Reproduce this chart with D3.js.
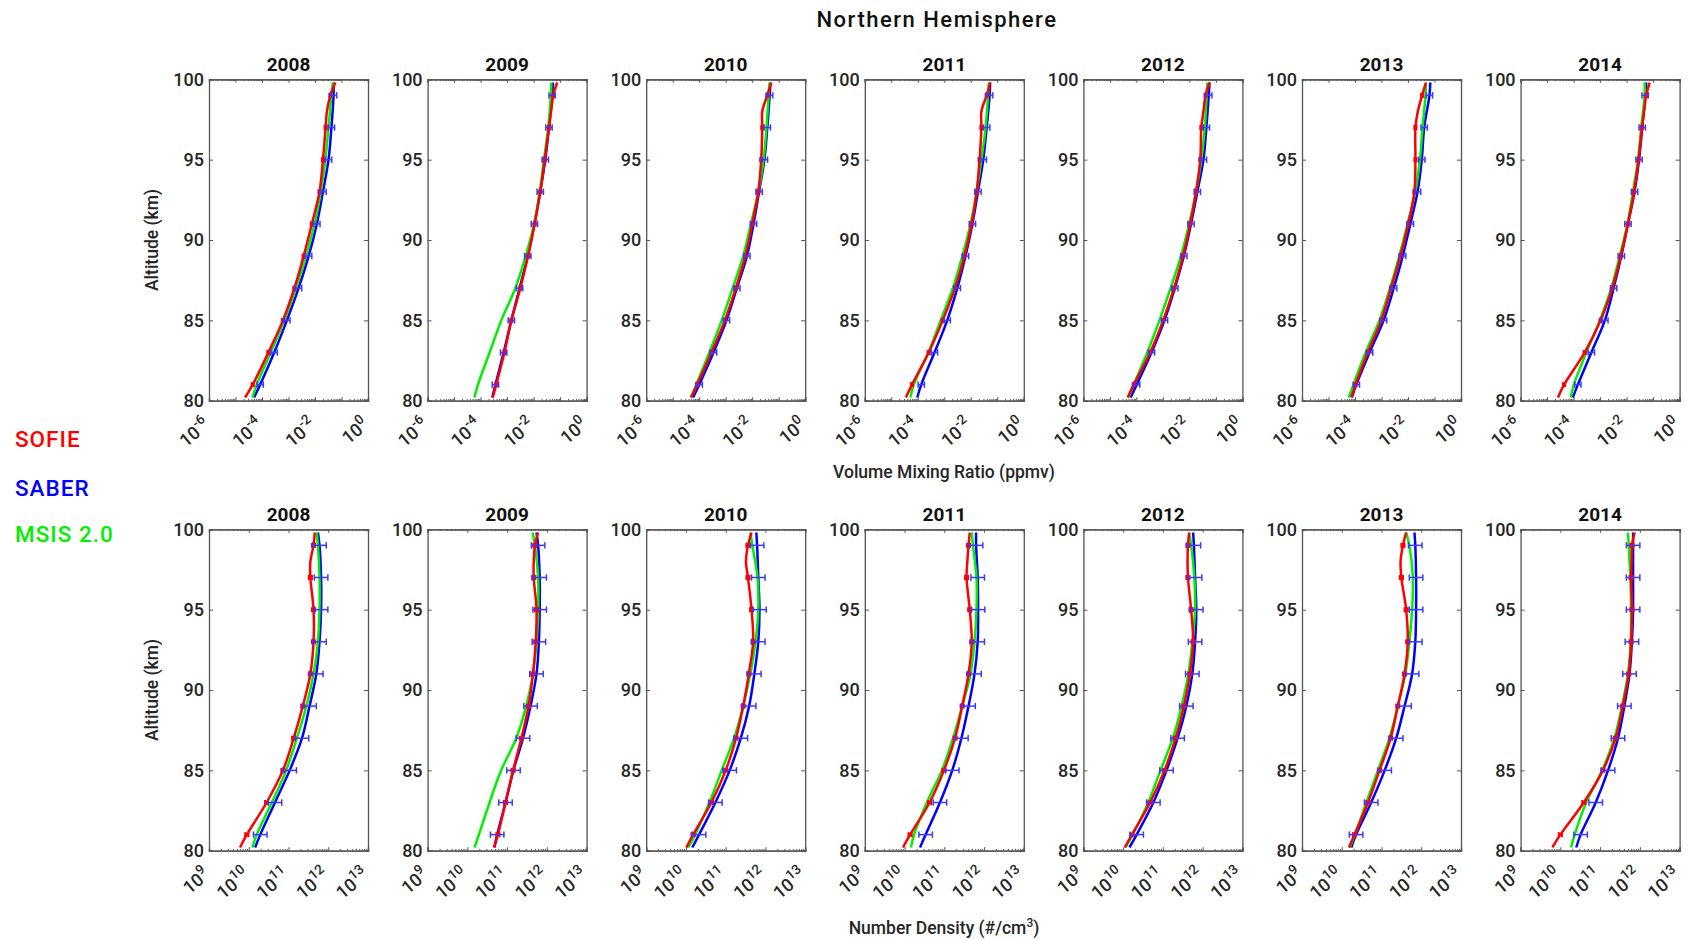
<!DOCTYPE html>
<html>
<head lang="en">
  <meta charset="UTF-8">
  <title>Northern Hemisphere</title>
  <script src="https://d3js.org/d3.v7.min.js" charset="utf-8"></script>
  <style>
    body { margin: 0; background: #fff; }
    text { font-family: Roboto, "Noto Sans", sans-serif; }
  </style>
</head>
<body>
  <script type="text/javascript">
    // values are log10 of the quantity
    var years = [2008, 2009, 2010, 2011, 2012, 2013, 2014];
    var alt = [80.2, 81, 83, 85, 87, 89, 91, 93, 95, 97, 99, 99.8];
    var altSofie = [80.2, 81, 83, 85, 87, 89, 91, 93, 95, 97, 98, 99, 99.8];
    var errAlt = [81, 83, 85, 87, 89, 91, 93, 95, 97, 99];

    // volume mixing ratio (ppmv)
    var vmrSofie = [
      [-4.64, -4.35, -3.76, -3.21, -2.78, -2.43, -2.12, -1.83, -1.70, -1.60, -1.55, -1.42, -1.23],
      [-3.54, -3.41, -3.10, -2.84, -2.50, -2.21, -1.96, -1.75, -1.58, -1.42, -1.34, -1.26, -1.11],
      [-4.31, -4.08, -3.54, -3.03, -2.62, -2.26, -2.00, -1.77, -1.66, -1.62, -1.62, -1.43, -1.28],
      [-4.45, -4.22, -3.59, -3.06, -2.60, -2.24, -1.97, -1.78, -1.67, -1.60, -1.60, -1.40, -1.27],
      [-4.33, -4.10, -3.48, -2.99, -2.58, -2.24, -1.97, -1.75, -1.59, -1.55, -1.47, -1.39, -1.24],
      [-4.14, -3.98, -3.52, -3.01, -2.64, -2.29, -1.99, -1.76, -1.72, -1.72, -1.63, -1.47, -1.32],
      [-4.59, -4.36, -3.58, -2.98, -2.54, -2.22, -1.95, -1.72, -1.55, -1.42, -1.34, -1.26, -1.13]
    ];
    var vmrSaber = [
      [-4.30, -4.07, -3.54, -3.06, -2.62, -2.24, -1.93, -1.70, -1.49, -1.38, -1.30, -1.30],
      [-3.56, -3.44, -3.13, -2.84, -2.53, -2.22, -1.97, -1.75, -1.56, -1.42, -1.30, -1.27],
      [-4.23, -4.00, -3.46, -2.97, -2.58, -2.20, -1.95, -1.74, -1.54, -1.43, -1.34, -1.31],
      [-4.02, -3.87, -3.37, -2.89, -2.51, -2.20, -1.94, -1.73, -1.53, -1.40, -1.29, -1.27],
      [-4.22, -3.99, -3.43, -2.94, -2.55, -2.21, -1.94, -1.70, -1.47, -1.36, -1.27, -1.24],
      [-4.12, -3.95, -3.45, -2.92, -2.54, -2.20, -1.91, -1.64, -1.48, -1.39, -1.19, -1.16],
      [-4.03, -3.84, -3.33, -2.82, -2.49, -2.20, -1.95, -1.70, -1.53, -1.41, -1.30, -1.26]
    ];
    var vmrMsis = [
      [-4.36, -4.20, -3.67, -3.16, -2.72, -2.34, -2.02, -1.78, -1.61, -1.49, -1.38, -1.33],
      [-4.23, -4.10, -3.66, -3.22, -2.69, -2.30, -1.98, -1.77, -1.61, -1.45, -1.35, -1.33],
      [-4.31, -4.11, -3.62, -3.15, -2.74, -2.34, -2.05, -1.77, -1.57, -1.46, -1.38, -1.35],
      [-4.28, -4.15, -3.60, -3.14, -2.68, -2.32, -2.01, -1.78, -1.60, -1.44, -1.35, -1.32],
      [-4.30, -4.10, -3.59, -3.13, -2.71, -2.32, -2.01, -1.75, -1.55, -1.42, -1.35, -1.32],
      [-4.23, -4.06, -3.60, -3.08, -2.68, -2.33, -2.02, -1.73, -1.55, -1.45, -1.34, -1.32],
      [-4.11, -3.99, -3.52, -3.01, -2.58, -2.26, -1.97, -1.76, -1.57, -1.45, -1.32, -1.32]
    ];

    // number density (#/cm3)
    var ndSofie = [
      [9.78, 9.95, 10.45, 10.86, 11.13, 11.36, 11.55, 11.63, 11.63, 11.55, 11.55, 11.63, 11.66],
      [10.67, 10.77, 10.96, 11.15, 11.36, 11.54, 11.65, 11.72, 11.74, 11.67, 11.67, 11.70, 11.78],
      [10.01, 10.18, 10.64, 11.00, 11.26, 11.44, 11.58, 11.69, 11.65, 11.56, 11.51, 11.56, 11.65],
      [9.96, 10.14, 10.63, 10.99, 11.27, 11.45, 11.61, 11.69, 11.64, 11.56, 11.58, 11.61, 11.64],
      [10.04, 10.22, 10.68, 11.04, 11.32, 11.53, 11.68, 11.76, 11.71, 11.63, 11.62, 11.63, 11.66],
      [10.18, 10.32, 10.66, 10.95, 11.23, 11.41, 11.58, 11.66, 11.62, 11.50, 11.48, 11.54, 11.62],
      [9.80, 10.00, 10.59, 11.07, 11.39, 11.57, 11.72, 11.78, 11.80, 11.78, 11.79, 11.80, 11.87]
    ];
    var ndSaber = [
      [10.16, 10.29, 10.66, 11.03, 11.34, 11.53, 11.70, 11.78, 11.82, 11.82, 11.78, 11.74],
      [10.68, 10.75, 10.96, 11.16, 11.40, 11.59, 11.74, 11.80, 11.82, 11.82, 11.78, 11.74],
      [10.16, 10.33, 10.74, 11.10, 11.38, 11.59, 11.72, 11.82, 11.85, 11.82, 11.79, 11.77],
      [10.39, 10.53, 10.89, 11.20, 11.43, 11.61, 11.76, 11.84, 11.85, 11.84, 11.80, 11.80],
      [10.16, 10.34, 10.76, 11.09, 11.37, 11.59, 11.74, 11.81, 11.84, 11.81, 11.78, 11.76],
      [10.24, 10.36, 10.74, 11.08, 11.37, 11.58, 11.77, 11.85, 11.87, 11.87, 11.85, 11.83],
      [10.40, 10.51, 10.89, 11.20, 11.45, 11.61, 11.74, 11.80, 11.83, 11.83, 11.83, 11.83]
    ];
    var ndMsis = [
      [10.09, 10.20, 10.58, 10.94, 11.21, 11.45, 11.63, 11.74, 11.78, 11.78, 11.74, 11.71],
      [10.18, 10.29, 10.56, 10.85, 11.23, 11.48, 11.65, 11.74, 11.78, 11.78, 11.70, 11.64],
      [10.06, 10.23, 10.59, 10.90, 11.21, 11.44, 11.62, 11.75, 11.82, 11.80, 11.67, 11.62],
      [10.16, 10.24, 10.56, 10.94, 11.22, 11.45, 11.66, 11.76, 11.81, 11.81, 11.72, 11.69],
      [10.06, 10.24, 10.63, 10.94, 11.25, 11.47, 11.64, 11.74, 11.81, 11.79, 11.71, 11.66],
      [10.20, 10.33, 10.62, 10.91, 11.20, 11.41, 11.60, 11.70, 11.77, 11.79, 11.70, 11.62],
      [10.27, 10.36, 10.65, 11.05, 11.36, 11.55, 11.70, 11.77, 11.78, 11.76, 11.72, 11.70]
    ];

    var vmrTicks = [1e-6, 1e-4, 1e-2, 1];
    var ndTicks = [1e9, 1e10, 1e11, 1e12, 1e13];
    var altTicks = [80, 85, 90, 95, 100];
    var legendNames = ['SOFIE', 'SABER', 'MSIS 2.0'];

    var cRed = '#ff0000', cBlue = '#0000ff', cGreen = '#00f000';
    var dark = '#262626';

    var svg = d3.select('body')
        .append('svg')
        .attr('width', 1697)
        .attr('height', 940);

    var left0 = 209, pitch = 218.6, pw = 159, ph = 321.4;
    var rows = [
      {top: 79.3, domain: [1e-6, 1], labels: vmrTicks, sofie: vmrSofie, saber: vmrSaber, msis: vmrMsis,
       errB: 0.12, errR: 0.04, title: 'Volume Mixing Ratio (ppmv)', titleY: 478},
      {top: 529.3, domain: [1e9, 1e13], labels: ndTicks, sofie: ndSofie, saber: ndSaber, msis: ndMsis,
       errB: 0.17, errR: 0.04, title: 'Number Density (#/cm', titleY: 934}
    ];

    svg.append('text')
        .attr('x', 937).attr('y', 27)
        .attr('text-anchor', 'middle')
        .attr('font-size', 22).attr('font-weight', 500)
        .attr('letter-spacing', 1.5)
        .attr('fill', '#111')
        .text('Northern Hemisphere');

    rows.forEach(function (row, r) {
      var y = d3.scaleLinear().domain([80, 100]).range([row.top + ph, row.top]);

      years.forEach(function (year, i) {
        var px = left0 + i * pitch;
        var x = d3.scaleLog().domain(row.domain).range([px, px + pw]);
        var g = svg.append('g');
        var decades = d3.range(Math.log10(row.domain[0]), Math.log10(row.domain[1]) + 1)
            .map(function (e) { return Math.pow(10, e); });
        var minors = x.ticks().filter(function (t) { return decades.indexOf(t) < 0; });

        // box and ticks
        [[d3.axisBottom, row.top + ph], [d3.axisTop, row.top]].forEach(function (a) {
          g.append('g').attr('transform', 'translate(0,' + a[1] + ')')
              .call(a[0](x).tickValues(minors).tickSize(-1.8).tickFormat(''));
          g.append('g').attr('transform', 'translate(0,' + a[1] + ')')
              .call(a[0](x).tickValues(decades).tickSize(-3.5).tickFormat(''));
        });
        var yl = g.append('g').attr('transform', 'translate(' + px + ',0)')
            .call(d3.axisLeft(y).tickValues(altTicks).tickSize(-4).tickPadding(5));
        g.append('g').attr('transform', 'translate(' + (px + pw) + ',0)')
            .call(d3.axisRight(y).tickValues(altTicks).tickSize(-4).tickFormat(''));
        g.selectAll('.domain').attr('stroke', '#555').attr('stroke-width', 1.3);
        g.selectAll('.tick line').attr('stroke', '#555');
        yl.selectAll('text').attr('font-size', 18).attr('font-weight', 500)
            .attr('fill', dark).attr('font-family', 'Roboto, sans-serif');

        // x tick labels 10^n, rotated
        g.selectAll('text.xl').data(row.labels).join('text')
            .attr('class', 'xl')
            .attr('transform', function (d) {
              return 'translate(' + (x(d) + 2) + ',' + (row.top + ph + 26) + ') rotate(-40)';
            })
            .attr('text-anchor', 'end')
            .attr('font-size', 18).attr('font-weight', 500).attr('fill', dark)
            .each(function (d) {
              var t = d3.select(this);
              t.append('tspan').text('10');
              t.append('tspan').attr('dy', -8).attr('font-size', 13.5)
                  .text(String(Math.round(Math.log10(d))));
            });

        // year title
        g.append('text')
            .attr('x', px + pw / 2).attr('y', row.top - 8.5)
            .attr('text-anchor', 'middle')
            .attr('font-size', 19).attr('font-weight', 700).attr('fill', '#111')
            .text(year);

        var line = d3.line()
            .x(function (d) { return x(Math.pow(10, d[1])); })
            .y(function (d) { return y(d[0]); })
            .curve(d3.curveCatmullRom.alpha(0.5));

        function pairs(a, v) { return a.map(function (h, k) { return [h, v[k]]; }); }
        function errs(a, v) { return pairs(a, v).filter(function (d) { return errAlt.indexOf(d[0]) >= 0; }); }

        function errorBars(data, half, color, width, cap) {
          var eg = g.append('g').attr('stroke', color).attr('stroke-width', width).attr('fill', 'none');
          data.forEach(function (d) {
            var x0 = x(Math.pow(10, d[1] - half)), x1 = x(Math.pow(10, d[1] + half)), yy = y(d[0]);
            eg.append('line').attr('x1', x0).attr('x2', x1).attr('y1', yy).attr('y2', yy);
            eg.append('line').attr('x1', x0).attr('x2', x0).attr('y1', yy - cap).attr('y2', yy + cap);
            eg.append('line').attr('x1', x1).attr('x2', x1).attr('y1', yy - cap).attr('y2', yy + cap);
          });
        }

        g.append('path').datum(pairs(alt, row.saber[i]))
            .attr('d', line).attr('fill', 'none').attr('stroke', cBlue).attr('stroke-width', 2.5);
        g.append('path').datum(pairs(alt, row.msis[i]))
            .attr('d', line).attr('fill', 'none').attr('stroke', cGreen).attr('stroke-width', 2.5);
        errorBars(errs(altSofie, row.sofie[i]), row.errR, cRed, 2, 2.5);
        g.append('path').datum(pairs(altSofie, row.sofie[i]))
            .attr('d', line).attr('fill', 'none').attr('stroke', cRed).attr('stroke-width', 2.5);
        errorBars(errs(alt, row.saber[i]), row.errB, '#3a3aff', 1.5, 3.2);
      });

      // row labels
      svg.append('text')
          .attr('transform', 'translate(158,' + (row.top + ph / 2) + ') rotate(-90)')
          .attr('text-anchor', 'middle')
          .attr('font-size', 17.5).attr('font-weight', 500).attr('fill', dark)
          .text('Altitude (km)');
      var xt = svg.append('text')
          .attr('x', 944).attr('y', row.titleY)
          .attr('text-anchor', 'middle')
          .attr('font-size', 17.5).attr('font-weight', 500).attr('fill', dark)
          .text(row.title);
      if (r === 1) {
        xt.append('tspan').attr('dy', -7).attr('font-size', 12).text('3');
        xt.append('tspan').attr('dy', 7).text(')');
      }
    });

    // legend
    var legendColors = [cRed, cBlue, cGreen];
    var legendY = [447, 496, 542];
    legendNames.forEach(function (n, k) {
      svg.append('text')
          .attr('x', 15).attr('y', legendY[k])
          .attr('font-size', 22.5).attr('font-weight', 500)
          .attr('letter-spacing', 1)
          .attr('fill', legendColors[k])
          .text(n);
    });
  </script>
</body>
</html>
